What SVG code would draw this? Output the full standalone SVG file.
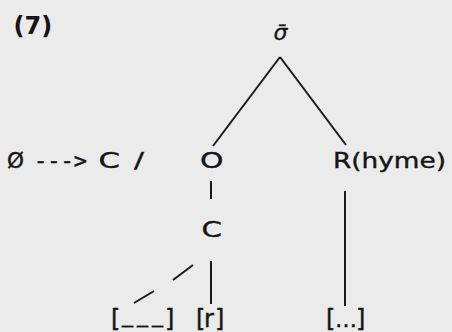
<svg xmlns="http://www.w3.org/2000/svg" width="452" height="332" viewBox="0 0 452 332">
<style>
.t{font-family:"DejaVu Sans","Liberation Sans",sans-serif;font-size:22px;fill:#151515;stroke:#151515;stroke-width:0.4}
.m{font-family:"DejaVu Sans Mono","Liberation Mono",monospace;font-size:22px;fill:#151515;stroke:#151515;stroke-width:0.5}
.k{font-size:24px}
.b{font-weight:bold;font-size:24px;stroke-width:0}
.s{font-family:"DejaVu Sans","Liberation Sans",sans-serif;font-style:italic;font-size:22px;fill:#151515;stroke:#151515;stroke-width:0.3}
.e{stroke:#1a1a1a;stroke-width:2;fill:none;stroke-linecap:butt}
</style>
<rect width="452" height="332" fill="#ebebeb"/>
<g id="label"><text class="t b" x="13.5" y="34">(7)</text></g>
<g id="rule">
<text class="t" x="7" y="168" font-size="23" textLength="17" lengthAdjust="spacingAndGlyphs">Ø</text>
<text class="m" x="34" y="168">---&gt;</text>
<text class="t" x="98.5" y="168" textLength="21.5" lengthAdjust="spacingAndGlyphs">C</text>
<text class="t" x="134" y="168" font-size="18" stroke-width="0.2" textLength="10" lengthAdjust="spacingAndGlyphs">/</text>
</g>
<g id="sigma"><text class="s" x="273.5" y="40">σ̄</text></g>
<g id="onset"><text class="t" x="200" y="168" textLength="23.5" lengthAdjust="spacingAndGlyphs">O</text></g>
<g id="rhyme"><text class="t" x="333" y="168" textLength="113" lengthAdjust="spacingAndGlyphs">R(hyme)</text></g>
<g id="c"><text class="t" x="201.5" y="237" textLength="20.5" lengthAdjust="spacingAndGlyphs">C</text></g>
<g id="blank"><text class="t k" x="111" y="327">[</text><text class="t" x="122 137 152" y="322">___</text><text class="t k" x="165" y="327">]</text></g>
<g id="r"><text class="t k" x="196 204 215" y="327">[r]</text></g>
<g id="dots"><text class="t k" x="326" y="327">[</text><text class="t" font-size="18" x="335" y="327">…</text><text class="t k" x="356" y="327">]</text></g>
<g id="connectors">
<line class="e" x1="280" y1="57" x2="213" y2="146"/>
<line class="e" x1="280" y1="57" x2="346" y2="145"/>
<line class="e" x1="211" y1="181" x2="211" y2="199"/>
<line class="e" x1="211" y1="261" x2="211" y2="304"/>
<line class="e" x1="134" y1="303" x2="154" y2="291"/>
<line class="e" x1="173" y1="280" x2="193" y2="265"/>
<line class="e" x1="345" y1="191" x2="345" y2="306"/>
</g>
</svg>
